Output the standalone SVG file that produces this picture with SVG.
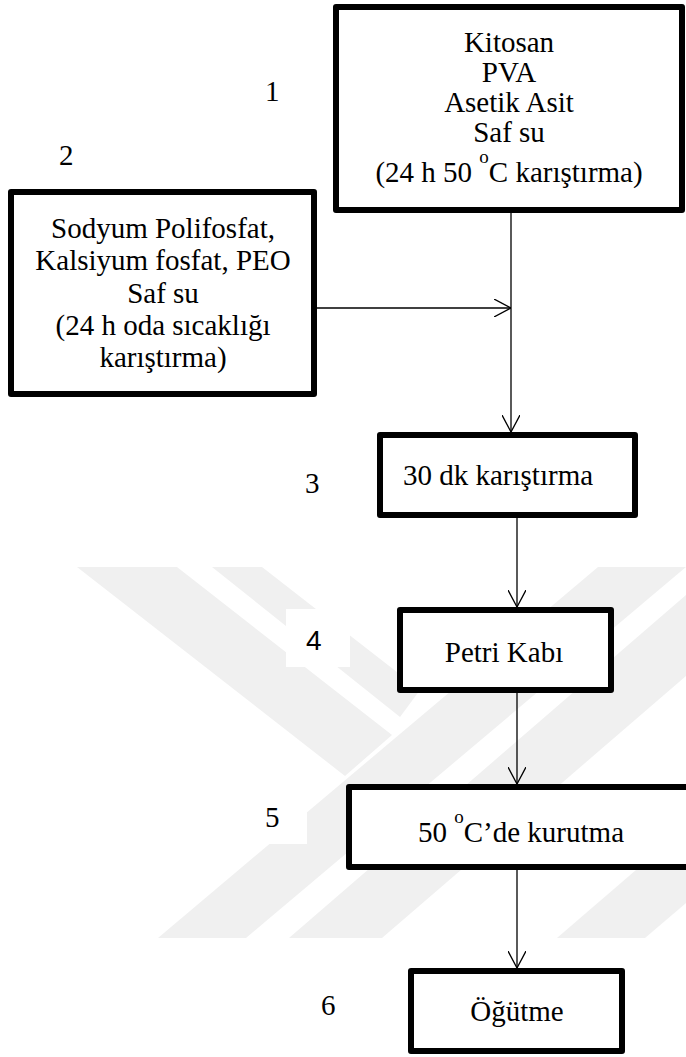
<svg xmlns="http://www.w3.org/2000/svg" width="686" height="1057" viewBox="0 0 686 1057">
  <style>
    .box { fill: #ffffff; stroke: #000000; stroke-width: 6; stroke-linejoin: round; }
    .lbl { font-size: 29px; fill: #000000; }
    .num { font-size: 29px; fill: #000000; }
    .num-sans { font-size: 28px; fill: #000000; }
    .link { fill: none; stroke: #000000; stroke-width: 1.3; }
    .mark { fill: #f0f0f0; stroke: none; }
  </style>
  <defs>
    <marker id="arrow" viewBox="0 0 17 18" refX="17" refY="9" markerWidth="17" markerHeight="18" markerUnits="userSpaceOnUse" orient="auto">
      <path d="M0,0 L17,9 L0,18" fill="none" stroke="#000000" stroke-width="1.3"/>
    </marker>
  </defs>

  <rect x="0" y="0" width="686" height="1057" fill="#ffffff"/>

  <!-- faint background emblem -->
  <g id="emblem">
    <polygon class="mark" points="158,938 246,938 686,567 598,567"/>
    <polygon class="mark" points="77,567 177,567 392,735 345,776"/>
    <polygon class="mark" points="212,567 262,567 420,690 400,717"/>
    <polygon class="mark" points="289,938 382,938 686,676 686,595"/>
    <polygon class="mark" points="557,938 645,938 686,903 686,827"/>
    <rect x="286" y="609" width="64" height="58" fill="#ffffff"/>
    <rect x="250" y="787" width="57" height="57" fill="#ffffff"/>
  </g>

  <!-- connectors -->
  <g id="connectors">
    <line class="link" x1="511" y1="213" x2="511" y2="432" marker-end="url(#arrow)"/>
    <line class="link" x1="317" y1="308" x2="511" y2="308" marker-end="url(#arrow)"/>
    <line class="link" x1="517" y1="518" x2="517" y2="607" marker-end="url(#arrow)"/>
    <line class="link" x1="517" y1="693" x2="517" y2="784" marker-end="url(#arrow)"/>
    <line class="link" x1="517" y1="870" x2="517" y2="968" marker-end="url(#arrow)"/>
  </g>

  <g font-family="Liberation Serif, Times New Roman, serif">
  <!-- step 1 -->
  <g id="step1">
    <rect class="box" x="336" y="7" width="346" height="203"/>
    <text class="lbl" x="509" y="52" text-anchor="middle">Kitosan</text>
    <text class="lbl" x="509" y="82" text-anchor="middle">PVA</text>
    <text class="lbl" x="509" y="112" text-anchor="middle">Asetik Asit</text>
    <text class="lbl" x="509" y="142" text-anchor="middle">Saf su</text>
    <text class="lbl" x="509" y="182" text-anchor="middle">(24 h 50 <tspan font-size="19" dy="-19">o</tspan><tspan dy="19">C karıştırma)</tspan></text>
    <text class="num" x="265" y="101">1</text>
  </g>

  <!-- step 2 -->
  <g id="step2">
    <rect class="box" x="11" y="192" width="303" height="202"/>
    <text class="lbl" x="163" y="238" text-anchor="middle">Sodyum Polifosfat,</text>
    <text class="lbl" x="163" y="270" text-anchor="middle">Kalsiyum fosfat, PEO</text>
    <text class="lbl" x="163" y="303" text-anchor="middle">Saf su</text>
    <text class="lbl" x="163" y="335" text-anchor="middle">(24 h oda sıcaklığı</text>
    <text class="lbl" x="163" y="367" text-anchor="middle">karıştırma)</text>
    <text class="num" x="59" y="165">2</text>
  </g>

  <!-- step 3 -->
  <g id="step3">
    <rect class="box" x="380" y="435" width="255" height="80"/>
    <text class="lbl" x="403" y="485">30 dk karıştırma</text>
    <text class="num" x="305" y="493">3</text>
  </g>

  <!-- step 4 -->
  <g id="step4">
    <rect class="box" x="400" y="610" width="211" height="80"/>
    <text class="lbl" x="504" y="662" text-anchor="middle">Petri Kabı</text>
    <text class="num-sans" x="306" y="650" font-family="Liberation Sans, Arial, sans-serif">4</text>
  </g>

  <!-- step 5 -->
  <g id="step5">
    <rect class="box" x="349" y="787" width="360" height="80"/>
    <text class="lbl" x="418" y="842">50 <tspan font-size="19" dy="-19">o</tspan><tspan dy="19">C’de kurutma</tspan></text>
    <text class="num" x="265" y="827">5</text>
  </g>

  <!-- step 6 -->
  <g id="step6">
    <rect class="box" x="411" y="971" width="211" height="80"/>
    <text class="lbl" x="517" y="1021" text-anchor="middle">Öğütme</text>
    <text class="num" x="321" y="1015">6</text>
  </g>
  </g>
</svg>
